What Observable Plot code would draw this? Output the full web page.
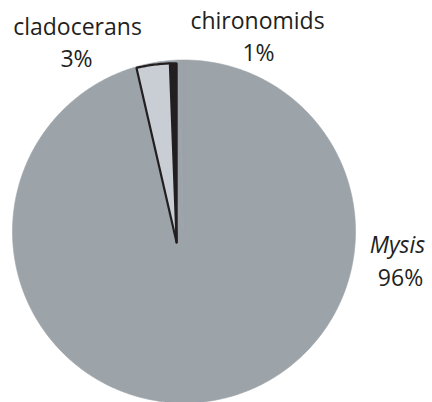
<!DOCTYPE html>
<html><head><meta charset="utf-8">
<script src="https://cdn.jsdelivr.net/npm/d3@7"></script>
<script src="https://cdn.jsdelivr.net/npm/@observablehq/plot@0.6"></script>
<style>html,body{margin:0;padding:0;background:#fff} svg{display:block}</style>
</head><body><div id="chart"></div>
<script>
// ---- data ----
const categories = ["Mysis", "cladocerans", "chironomids"];
const shares = [96.4, 3.0, 0.6];          // % of diet
const shareLabels = ["96%", "3%", "1%"];  // printed labels
const colors = ["#9ca3a9", "#c9cdd4", "#231f20"];

// ---- geometry helpers (unit circle, angles clockwise from 12 o'clock) ----
const total = d3.sum(shares);
const order = [2, 1, 0]; // slices laid counter-clockwise from the top
let acc = 0;
const slices = order.map(i => {
  const a0 = -acc / total * 2 * Math.PI;
  acc += shares[i];
  const a1 = -acc / total * 2 * Math.PI;
  return {i, a0, a1};
});
function sector(s, ox, oy, R) {
  const pts = [{x: ox, y: oy}];
  const n = Math.max(4, Math.ceil(Math.abs(s.a1 - s.a0) / 0.01));
  for (let k = 0; k <= n; k++) {
    const a = s.a0 + (s.a1 - s.a0) * k / n;
    pts.push({x: ox + R * Math.sin(a), y: oy + R * Math.cos(a)});
  }
  pts.push({x: ox, y: oy});
  return pts;
}

const W = 432, H = 402, cx = 183.5, cy = 231, r = 171.5;
// minor slices are drawn from a slightly displaced apex, as in the original
const apex = {x: -0.043, y: -0.064}, Rminor = 1.045;

const marks = [];
// the pie body
for (const s of slices) {
  marks.push(Plot.line(sector(s, 0, 0, 1), {x: "x", y: "y", fill: colors[0], stroke: colors[0], strokeWidth: 0.6}));
}
// highlighted minor slices
for (const s of slices.filter(s => s.i !== 0)) {
  marks.push(Plot.line(sector(s, apex.x, apex.y, Rminor), {
    x: "x", y: "y", fill: colors[s.i], stroke: "#231f20",
    strokeWidth: 2.2, strokeLinejoin: "miter"
  }));
}
// labels
const font = {fontFamily: "'Open Sans', sans-serif", fontSize: 23, fill: "#231f20", lineAnchor: "bottom", textAnchor: "middle", frameAnchor: "top-left"};
marks.push(Plot.text([categories[1]], {...font, text: d => d, dx: 77, dy: 34}));
marks.push(Plot.text([shareLabels[1]], {...font, text: d => d, dx: 76, dy: 66}));
marks.push(Plot.text([categories[2]], {...font, text: d => d, dx: 257, dy: 28}));
marks.push(Plot.text([shareLabels[2]], {...font, text: d => d, dx: 258, dy: 60}));
marks.push(Plot.text([categories[0]], {...font, text: d => d, dx: 397, dy: 252, fontStyle: "italic"}));
marks.push(Plot.text([shareLabels[0]], {...font, text: d => d, dx: 400, dy: 285}));

const chart = Plot.plot({
  width: W, height: H,
  margin: 0,
  x: {domain: [-cx / r, (W - cx) / r], axis: null},
  y: {domain: [-(H - cy) / r, cy / r], axis: null},
  marks
});
document.getElementById("chart").append(chart);
</script>
</body></html>
